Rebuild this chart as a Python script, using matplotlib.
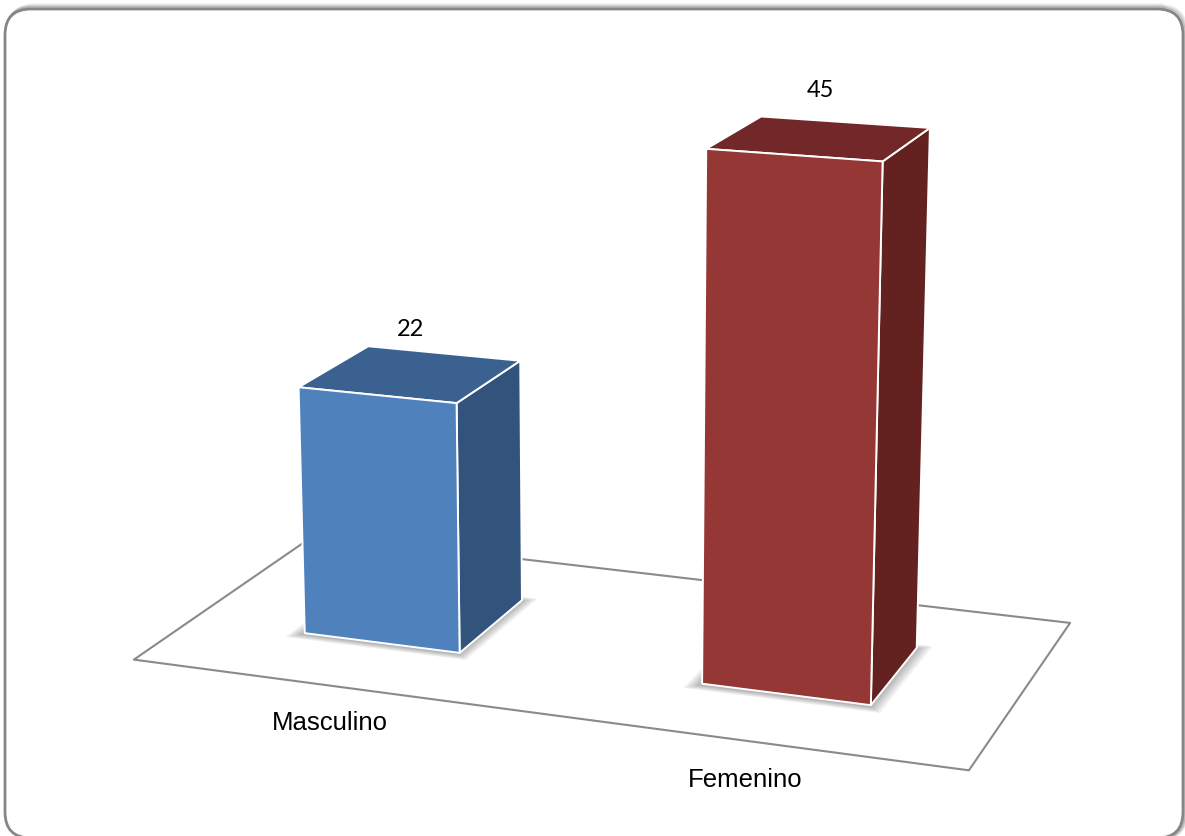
import numpy as np
import matplotlib
matplotlib.use("Agg")
import matplotlib.pyplot as plt
from matplotlib.patches import FancyBboxPatch
from matplotlib.transforms import IdentityTransform
from mpl_toolkits.mplot3d.art3d import Poly3DCollection

# ---- data ----
categories = ["Masculino", "Femenino"]
values = [22, 45]

# ---- styling ----
front_colors = ["#4F81BD", "#953735"]
side_colors = ["#32547C", "#632120"]
top_colors = ["#3B6190", "#722828"]
floor_edge = "#8A8A8A"

W, H = 1185, 837
fig = plt.figure(figsize=(W / 100, H / 100), dpi=100)
fig.patch.set_facecolor("white")

# rounded chart frame with a soft shadow (pixel coordinates)
px = IdentityTransform()
fx0, fy0, fx1, fy1 = 5, -2, 1183, 827
for k, a in enumerate([0.05, 0.07, 0.09, 0.12]):
    off = 4 - k
    fig.patches.append(FancyBboxPatch(
        (fx0 + off, fy0), fx1 - fx0, fy1 - fy0 + off,
        boxstyle="round,pad=0,rounding_size=26", transform=px,
        facecolor="none", edgecolor=(0, 0, 0, a), linewidth=2.5, zorder=-3))
fig.patches.append(FancyBboxPatch(
    (fx0, fy0), fx1 - fx0, fy1 - fy0,
    boxstyle="round,pad=0,rounding_size=26", transform=px,
    facecolor="white", edgecolor="#868686", linewidth=2, zorder=-2))

# ---- 3D column chart ----
# a large axes box so nothing of the perspective view gets clipped
ax = fig.add_axes([-0.3015, -0.2513, 1.6, 1.6], projection="3d")
ax.set_proj_type("persp", focal_length=0.46)
ax.view_init(elev=15, azim=-70)
ax.set_xlim(-0.5, len(values) - 0.5)
ax.set_ylim(-0.5, 0.5)
ax.set_zlim(0, 50)
ax.set_box_aspect((2, 1, 1.385), zoom=0.822)
ax.set_axis_off()
ax.patch.set_alpha(0)
ax.computed_zorder = False

floor = [[(-0.5, -0.5, 0), (len(values) - 0.5, -0.5, 0),
          (len(values) - 0.5, 0.5, 0), (-0.5, 0.5, 0)]]
ax.add_collection3d(Poly3DCollection(floor, facecolors="white",
                                     edgecolors=floor_edge, linewidths=1.5,
                                     zorder=1))

hw, hd = 0.2, 0.2
for i, v in enumerate(values):
    x0, x1 = i - hw, i + hw
    y0, y1 = -hd, hd

    # soft drop shadow of the column on the floor
    for g in np.linspace(0.0, 0.028, 6):
        sx0, sx1 = x0 - 0.004 - g, x1 + 0.004 + g
        sy0, sy1 = y0 - 0.012 - g, y1 - 0.004 + g
        ax.add_collection3d(Poly3DCollection(
            [[(sx0, sy0, 0), (sx1, sy0, 0), (sx1, sy1, 0), (sx0, sy1, 0)]],
            facecolors=(0, 0, 0, 0.055), edgecolors="none", zorder=1.5))

    front = [(x0, y0, 0), (x1, y0, 0), (x1, y0, v), (x0, y0, v)]
    side = [(x1, y0, 0), (x1, y1, 0), (x1, y1, v), (x1, y0, v)]
    top = [(x0, y0, v), (x1, y0, v), (x1, y1, v), (x0, y1, v)]
    bar = Poly3DCollection([front, side, top],
                           facecolors=[front_colors[i], side_colors[i], top_colors[i]],
                           edgecolors="white", linewidths=1.4, zorder=2 + i)
    ax.add_collection3d(bar)
    ax.text(i, 0, v + 4, str(v), ha="center", va="center",
            fontsize=17, family="Lato", color="black", zorder=10)
    ax.text(i, -0.5, -3.3, categories[i], ha="center", va="center",
            fontsize=18.5, family="Liberation Sans", color="black", zorder=10)

fig.savefig("out.png", dpi=100)
